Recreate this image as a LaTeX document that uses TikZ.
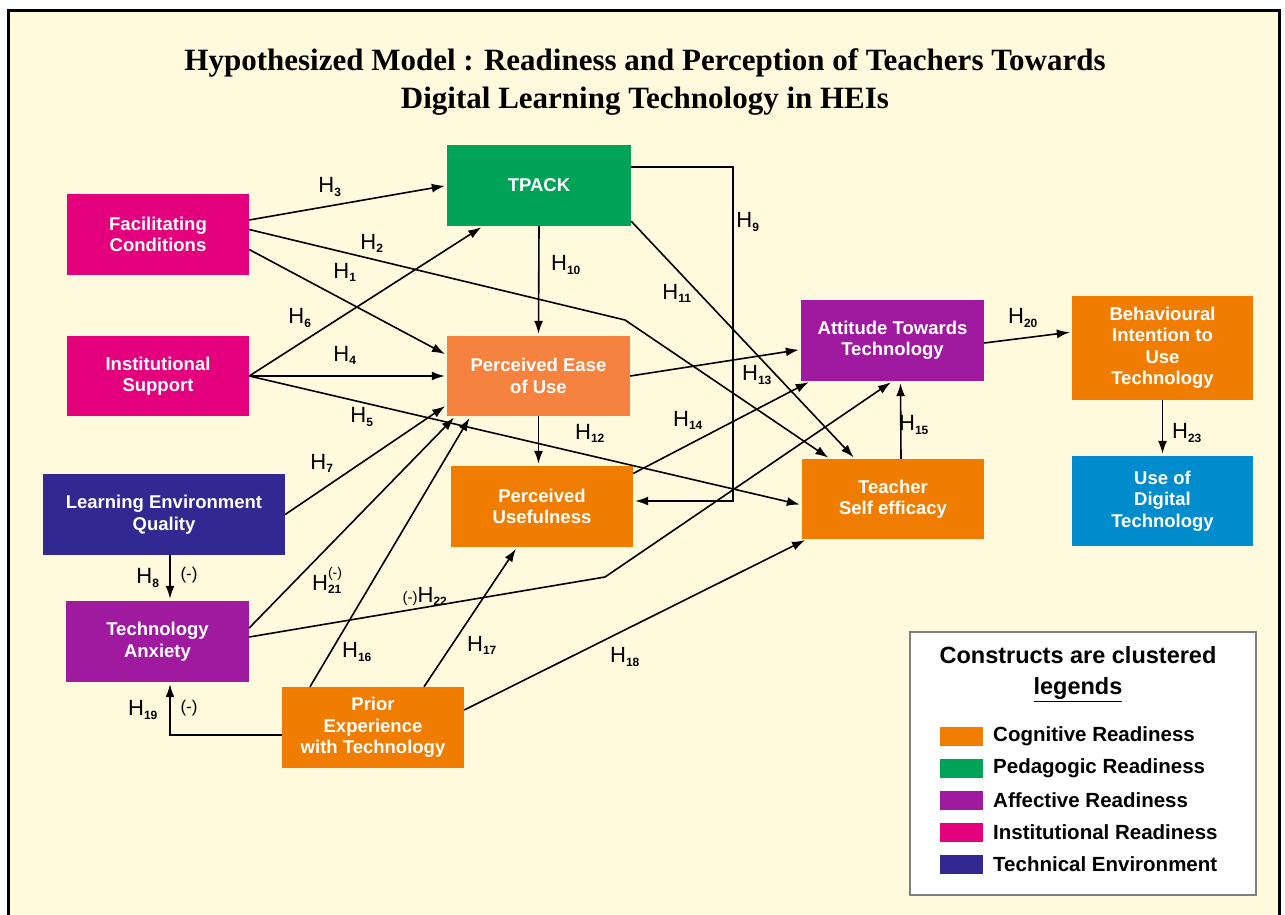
\documentclass[tikz,border=0pt]{standalone}
\usepackage{fontspec}
\setmainfont{Liberation Sans}
\newfontfamily\titlefont{Liberation Serif}
\usetikzlibrary{arrows.meta}
\definecolor{cream}{RGB}{255,249,222}
\definecolor{instmag}{RGB}{228,0,124}
\definecolor{pedgreen}{RGB}{0,163,88}
\definecolor{peouorg}{RGB}{245,130,62}
\definecolor{cogorg}{RGB}{240,125,0}
\definecolor{affpur}{RGB}{160,26,160}
\definecolor{techind}{RGB}{50,40,145}
\definecolor{udtblue}{RGB}{0,140,205}
\newcommand\hsub[1]{\textsubscript{\fontsize{12}{12}\selectfont\bfseries #1}}
\newcommand\hyp[1]{H\hsub{#1}}

\begin{document}
\begin{tikzpicture}[x=1pt,y=-1pt,>={Latex[length=13pt,width=9pt]},
  box/.style={fill=#1,text=white,font=\fontsize{18.5}{21.5}\selectfont\bfseries,align=center,minimum width=183pt,minimum height=81pt,inner sep=2pt},
  hl/.style={font=\fontsize{22}{24}\selectfont,inner sep=1pt},
  lnk/.style={->,line width=1.6pt,shorten >=2pt},
  swatch/.style={fill=#1,minimum width=43pt,minimum height=19pt,inner sep=0pt},
  lgtext/.style={anchor=west,font=\fontsize{20.5}{22}\selectfont\bfseries,inner sep=0pt}]
\useasboundingbox(0,0)rectangle(1285,915);
\fill[white](0,0)rectangle(1285,915);
\fill[cream](8,11)rectangle(1279,915);
\draw[line width=3pt](8,917)--(8,11)--(1279,11)--(1279,917);
% title
\node[font=\titlefont\fontsize{31}{38}\selectfont\bfseries,align=center](title)at(645,82){Hypothesized Model : Readiness and Perception of Teachers Towards\\Digital Learning Technology in HEIs};
% constructs
\node[box=instmag,minimum width=182pt](FC)at(158,234.5){Facilitating\\Conditions};
\node[box=instmag,minimum width=182pt,minimum height=80pt](IS)at(158,376){Institutional\\Support};
\node[box=pedgreen,minimum width=184pt](TPACK)at(539,185.5){TPACK};
\node[box=peouorg,minimum height=80pt](PEOU)at(538.5,376){Perceived Ease\\of Use};
\node[box=cogorg,minimum width=182pt](PU)at(542,506.5){Perceived\\Usefulness};
\node[box=techind,minimum width=242pt](LEQ)at(164,514.5){Learning Environment\\Quality};
\node[box=affpur](TA)at(157.5,641.5){Technology\\Anxiety};
\node[box=cogorg,minimum width=182pt](PE)at(373,727.5){Prior\\Experience\\with Technology};
\node[box=affpur](ATT)at(892.5,340.5){Attitude Towards\\Technology};
\node[box=cogorg,minimum width=182pt,minimum height=80pt](TSE)at(893,499){Teacher\\Self efficacy};
\node[box=cogorg,minimum width=181pt,minimum height=104pt](BI)at(1162.5,348){Behavioural\\Intention to\\Use\\Technology};
\node[box=udtblue,minimum width=181pt,minimum height=90pt](UDT)at(1162.5,501){Use of\\Digital\\Technology};
% bend points
\coordinate(b2)at(625,320);
\coordinate(b9)at(733,501);
\coordinate(b22)at(605,577);
% hypotheses
\draw[lnk]([yshift=14.5]FC.east)--(TPACK.west);
\draw[lnk]([yshift=5]FC.east)--(b2)--([xshift=-63]TSE.north);
\draw[lnk]([yshift=-15]FC.east)--([yshift=21]PEOU.west);
\draw[lnk](IS.east)--([xshift=-56]TPACK.south);
\draw[lnk](IS.east)--(PEOU.west);
\draw[lnk](IS.east)--([yshift=-6]TSE.west);
\draw[lnk](LEQ.east)--([yshift=-29]PEOU.west);
\draw[lnk]([yshift=18.5]TPACK.east)-|(b9)--([yshift=5.5]PU.east);
\draw[lnk](TPACK.south)--(PEOU.north);
\draw[lnk]([yshift=5]TPACK.south east)--([xshift=-38]TSE.north);
\draw[lnk](PEOU.south)--(PEOU.south|-PU.north);
\draw[lnk](PEOU.east)--([yshift=-9]ATT.west);
\draw[lnk]([yshift=33]PU.east)--([xshift=-82]ATT.south);
\draw[lnk]([xshift=8]TSE.north)--([xshift=8]ATT.south);
\draw[lnk]([yshift=-2.5]ATT.east)--([yshift=16]BI.west);
\draw[lnk](BI.south)--(UDT.north);
\draw[lnk]([xshift=6]LEQ.south)--([xshift=12.5]TA.north);
\draw[lnk]([yshift=-7.5]PE.west)-|([xshift=12.5]TA.south);
\draw[lnk]([yshift=13.5]TA.east)--([xshift=-83]PEOU.south);
\draw[lnk]([yshift=4.5]TA.east)--(b22)--(ATT.south);
\draw[lnk]([xshift=-63]PE.north)--([xshift=-68]PEOU.south);
\draw[lnk]([xshift=51]PE.north)--([xshift=-25]PU.south);
\draw[lnk]([yshift=17.5]PE.east)--([xshift=5]TSE.south west);
% labels
\node[hl](l3)at(330,187){\hyp{3}};
\node[hl](l2)at(372,243){\hyp{2}};
\node[hl](l1)at(345,272){\hyp{1}};
\node[hl](l6)at(300,318){\hyp{6}};
\node[hl](l4)at(345,355){\hyp{4}};
\node[hl](l5)at(362,417){\hyp{5}};
\node[hl](l7)at(322,463){\hyp{7}};
\node[hl](l8)at(148,578){\hyp{8}};
\node[hl,font=\fontsize{17}{19}\selectfont](n8)at(189,575){(-)};
\node[hl](l9)at(748,222){\hyp{9}};
\node[hl](l10)at(566,265){\hyp{10}};
\node[hl](l11)at(677,293){\hyp{11}};
\node[hl](l12)at(590,433){\hyp{12}};
\node[hl](l13)at(757,375){\hyp{13}};
\node[hl](l14)at(688,420){\hyp{14}};
\node[hl](l15)at(914,425){\hyp{15}};
\node[hl](l16)at(357,652){\hyp{16}};
\node[hl](l17)at(482,645){\hyp{17}};
\node[hl](l18)at(625,657){\hyp{18}};
\node[hl](l19)at(143,710){\hyp{19}};
\node[hl,font=\fontsize{17}{19}\selectfont](n19)at(189,708){(-)};
\node[hl](l20)at(1023,318){\hyp{20}};
\node[hl](l21)at(327,580){H\rlap{\raisebox{13pt}{\fontsize{14}{14}\selectfont(-)}}\hsub{21}};
\node[hl](l22)at(425,596){{\fontsize{15}{15}\selectfont(-)}\hyp{22}};
\node[hl](l23)at(1187,433){\hyp{23}};
% legend
\node[draw=gray,line width=1.5pt,fill=white,minimum width=346pt,minimum height=263pt](legend)at(1083,763.5){};
\node[font=\fontsize{23.5}{31}\selectfont\bfseries,align=center](lgtitle)at(1078,674){Constructs are clustered\\\underline{legends}};
\node[swatch=cogorg](s1)at(961.5,736){};
\node[swatch=pedgreen](s2)at(961.5,768){};
\node[swatch=affpur](s3)at(961.5,800){};
\node[swatch=instmag](s4)at(961.5,832){};
\node[swatch=techind](s5)at(961.5,864){};
\node[lgtext](t1)at(993,736){Cognitive Readiness};
\node[lgtext](t2)at(993,768){Pedagogic Readiness};
\node[lgtext](t3)at(993,800){Affective Readiness};
\node[lgtext](t4)at(993,832){Institutional Readiness};
\node[lgtext](t5)at(993,864){Technical Environment};
\end{tikzpicture}
\end{document}
